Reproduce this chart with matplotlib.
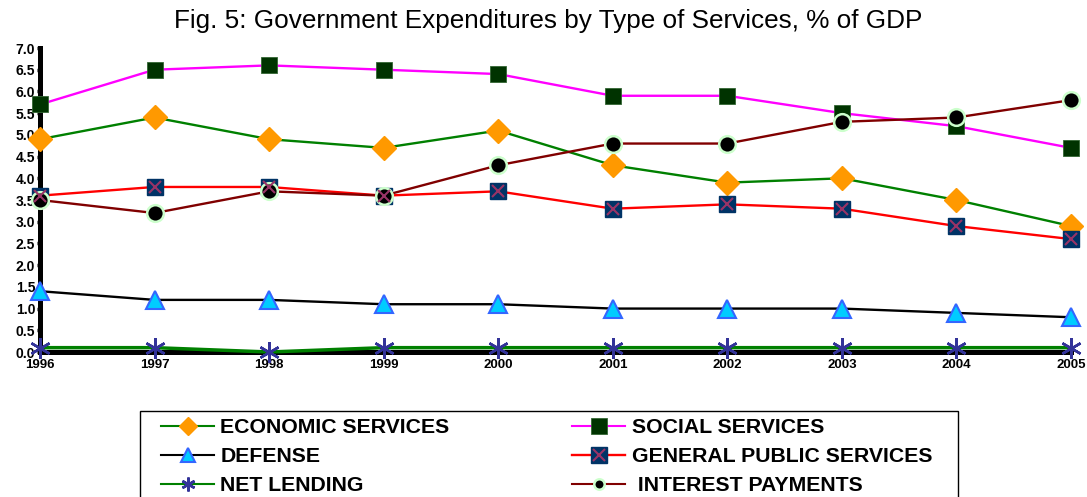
import matplotlib
matplotlib.use("Agg")
from matplotlib import pyplot as plt
from matplotlib.legend_handler import HandlerTuple
from matplotlib.patches import Rectangle

years = [1996, 1997, 1998, 1999, 2000, 2001, 2002, 2003, 2004, 2005]
economic = [4.9, 5.4, 4.9, 4.7, 5.1, 4.3, 3.9, 4.0, 3.5, 2.9]
social = [5.7, 6.5, 6.6, 6.5, 6.4, 5.9, 5.9, 5.5, 5.2, 4.7]
defense = [1.4, 1.2, 1.2, 1.1, 1.1, 1.0, 1.0, 1.0, 0.9, 0.8]
general = [3.6, 3.8, 3.8, 3.6, 3.7, 3.3, 3.4, 3.3, 2.9, 2.6]
net_lending = [0.1, 0.1, 0.0, 0.1, 0.1, 0.1, 0.1, 0.1, 0.1, 0.1]
interest = [3.5, 3.2, 3.7, 3.6, 4.3, 4.8, 4.8, 5.3, 5.4, 5.8]

plt.rcParams['font.family'] = ['Liberation Sans', 'DejaVu Sans']

W, H = 1087, 497
fig = plt.figure(figsize=(W / 100, H / 100), dpi=100)
ax = fig.add_axes([40 / W, 1 - 352 / H, 1031 / W, 304 / H])

lw = 1.7
h_eco, = ax.plot(years, economic, color='#008000', lw=lw, marker='D', ms=12.5,
                 mfc='#FF9900', mec='#FF9900', clip_on=False, zorder=3)
h_soc, = ax.plot(years, social, color='#FF00FF', lw=lw, marker='s', ms=11,
                 mfc='#003300', mec='#336633', mew=0.6, clip_on=False, zorder=3)
h_def, = ax.plot(years, defense, color='black', lw=lw, marker='^', ms=13,
                 mfc='#00CCFF', mec='#3366FF', mew=1.5, clip_on=False, zorder=3)
h_gen, = ax.plot(years, general, color='#FF0000', lw=lw, marker='s', ms=11,
                 mfc='#003366', mec='#003366', clip_on=False, zorder=3)
h_genx, = ax.plot(years, general, ls='none', marker='x', ms=9, mew=1.5,
                  color='#993366', clip_on=False, zorder=4)
h_net, = ax.plot(years, net_lending, color='#008000', lw=2.5, marker=(6, 2, 0), ms=15,
                 mec='#333399', mew=1.8, clip_on=False, zorder=3)
h_int, = ax.plot(years, interest, color='#800000', lw=lw, marker='o', ms=12,
                 mfc='black', mec='#CCFFCC', mew=1.8, clip_on=False, zorder=3)

ax.set_xlim(1996, 2005)
ax.set_ylim(0, 7)
ax.set_yticks([i * 0.5 for i in range(15)])
ax.set_yticklabels(["{:.1f}".format(i * 0.5) for i in range(15)],
                   fontsize=10, fontweight='bold')
ax.set_xticks(years)
ax.set_xticklabels([str(y) for y in years], fontsize=9.5, fontweight='bold')
ax.tick_params(axis='y', length=2.5, width=2.5, pad=1)
ax.tick_params(axis='x', length=0, pad=5)
for s in ['top', 'right']:
    ax.spines[s].set_visible(False)
ax.spines['left'].set_linewidth(3.6)
ax.spines['bottom'].set_linewidth(3.6)

fig.text(548 / W, 1 - 21 / H, "Fig. 5: Government Expenditures by Type of Services, % of GDP",
         fontsize=18.8, ha='center', va='center')

# legend frame
fig.patches.append(Rectangle((140 / W, -0.01), 818 / W, 1 - 411 / H + 0.01,
                             transform=fig.transFigure, fill=False,
                             edgecolor='black', lw=1.0))

leg_kw = dict(loc='upper left', frameon=False,
              handler_map={tuple: HandlerTuple(ndivide=1, pad=0)},
              prop={'weight': 'bold', 'size': 15.3},
              handlelength=2.5, handletextpad=0.3, labelspacing=0.48,
              borderpad=0, borderaxespad=0, markerscale=1)
leg1 = fig.legend([h_eco, h_def, h_net],
                  ["ECONOMIC SERVICES", "DEFENSE", "NET LENDING"],
                  bbox_to_anchor=(161 / W, 1 - 418 / H), **leg_kw)
leg2 = fig.legend([h_soc, (h_gen, h_genx), h_int],
                  ["SOCIAL SERVICES", "GENERAL PUBLIC SERVICES", " INTEREST PAYMENTS"],
                  bbox_to_anchor=(572 / W, 1 - 418 / H), **leg_kw)
for h, ms in zip(leg1.legend_handles, [9.5, 10, 10]):
    h.set_markersize(ms)
    h.set_linewidth(1.5)
hs = leg2.legend_handles
hs[0].set_markersize(11)
hs[0].set_linewidth(1.5)
hs[2].set_markersize(7.5)
hs[2].set_linewidth(1.5)

fig.savefig("out.png", dpi=100)
